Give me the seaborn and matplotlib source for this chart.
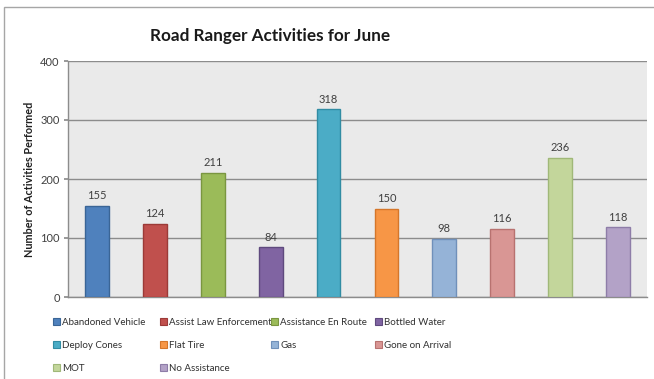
import matplotlib
matplotlib.use("Agg")
import matplotlib.pyplot as plt
import matplotlib.patches as mpatches
import seaborn as sns
import pandas as pd

# Activity categories and June counts
categories = [
    "Abandoned Vehicle", "Assist Law Enforcement", "Assistance En Route",
    "Bottled Water", "Deploy Cones", "Flat Tire", "Gas", "Gone on Arrival",
    "MOT", "No Assistance",
]
counts = [155, 124, 211, 84, 318, 150, 98, 116, 236, 118]
colors = [
    "#4F81BD", "#C0504D", "#9BBB59", "#8064A2", "#4BACC6",
    "#F79646", "#95B3D7", "#D99694", "#C3D69B", "#B3A2C7",
]
edge_colors = [
    "#3A6596", "#9C3A37", "#7A9640", "#5F4A7E", "#318CA3",
    "#D5762A", "#7090BA", "#B87270", "#A0B878", "#8E7DA8",
]
y_ticks = [0, 100, 200, 300, 400]

sns.set_theme(style="white")
plt.rcParams["font.family"] = ["Lato", "DejaVu Sans"]

df = pd.DataFrame({"activity": categories, "count": counts})

fig = plt.figure(figsize=(6.54, 3.79), dpi=100)
ax = fig.add_axes([68 / 654, 1 - 297 / 379, (647 - 68) / 654, (297 - 61) / 379])
ax.set_facecolor("#EAEAEA")

sns.barplot(
    data=df, x="activity", y="count", hue="activity",
    palette=colors, saturation=1, width=0.41, legend=False, ax=ax, zorder=3,
)
for patch, ec in zip(ax.patches, edge_colors):
    patch.set_edgecolor(ec)
    patch.set_linewidth(1.0)

# Value labels above each bar
for i, v in enumerate(counts):
    ax.text(i, v + 8, str(v), ha="center", va="bottom",
            fontsize=8, color="#404040", zorder=4)

ax.set_ylim(0, 400)
ax.set_xlim(-0.5, len(categories) - 0.5)
ax.set_yticks(y_ticks)
ax.tick_params(axis="y", labelsize=8, labelcolor="#404040", length=3,
               color="#8C8C8C", pad=3, left=True)
ax.set_xticks([])
ax.set_xlabel("")
ax.set_ylabel("Number of Activities Performed", fontsize=7.8, fontweight="bold",
              color="#202020", labelpad=4)
ax.yaxis.grid(True, color="#8C8C8C", linewidth=1.0, zorder=1)
ax.set_axisbelow(True)
for side in ["top", "right"]:
    ax.spines[side].set_visible(False)
for side in ["left", "bottom"]:
    ax.spines[side].set_color("#8C8C8C")
    ax.spines[side].set_linewidth(1.0)

fig.text(270 / 654, 1 - 36 / 379, "Road Ranger Activities for June",
         ha="center", va="center", fontsize=12.3, fontweight="bold", color="#1A1A1A")

# Legend: four evenly spaced columns, entries filled row by row
handles = [mpatches.Patch(facecolor=c, edgecolor=e, linewidth=0.8, label=n)
           for n, c, e in zip(categories, colors, edge_colors)]
column_x = [53, 160, 271, 375]
for col, x in enumerate(column_x):
    idx = list(range(col, len(categories), 4))
    fig.legend(
        [handles[i] for i in idx], [categories[i] for i in idx],
        ncol=1, loc="upper left", bbox_to_anchor=(x / 654, 1 - 318 / 379),
        frameon=False, fontsize=7, handlelength=0.75, handleheight=0.75,
        handletextpad=0.2, labelspacing=1.45,
        borderaxespad=0, borderpad=0, labelcolor="#303030",
    )

# Outer chart frame
fig.patches.append(mpatches.Rectangle(
    (4 / 654, -0.05), 1.0, 1 - 7 / 379 + 0.05, transform=fig.transFigure,
    fill=False, edgecolor="#A6A6A6", linewidth=1.0))

fig.savefig("out.png", dpi=100)
